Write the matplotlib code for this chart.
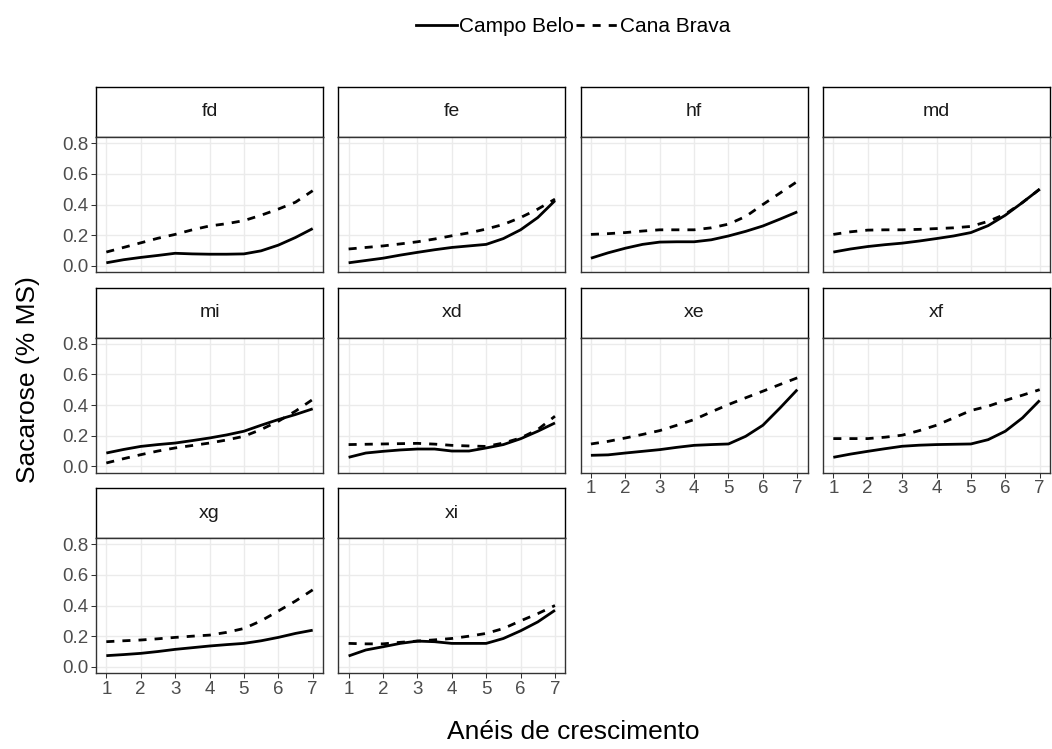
import numpy as np
import matplotlib
matplotlib.use('Agg')
import matplotlib.pyplot as plt
from matplotlib.lines import Line2D

plt.rcParams['font.family'] = ['Liberation Sans', 'DejaVu Sans']

# growth rings (x) and sucrose content per site / group
aneis = [1, 1.5, 2, 2.5, 3, 3.5, 4, 4.5, 5, 5.5, 6, 6.5, 7]
grupos = ['fd', 'fe', 'hf', 'md', 'mi', 'xd', 'xe', 'xf', 'xg', 'xi']

campo_belo = {
    'fd': [0.02, 0.04, 0.055, 0.068, 0.082, 0.078, 0.076, 0.076, 0.078, 0.098, 0.135, 0.185, 0.243],
    'fe': [0.02, 0.035, 0.05, 0.07, 0.088, 0.105, 0.12, 0.13, 0.14, 0.178, 0.235, 0.315, 0.425],
    'hf': [0.05, 0.085, 0.115, 0.14, 0.155, 0.157, 0.157, 0.17, 0.195, 0.225, 0.26, 0.305, 0.352],
    'md': [0.09, 0.11, 0.126, 0.138, 0.148, 0.162, 0.178, 0.195, 0.217, 0.262, 0.33, 0.413, 0.5],
    'mi': [0.087, 0.11, 0.13, 0.142, 0.152, 0.168, 0.185, 0.205, 0.229, 0.268, 0.305, 0.338, 0.375],
    'xd': [0.059, 0.087, 0.098, 0.107, 0.113, 0.113, 0.1, 0.1, 0.12, 0.142, 0.18, 0.229, 0.283],
    'xe': [0.072, 0.075, 0.087, 0.098, 0.109, 0.124, 0.137, 0.142, 0.146, 0.196, 0.268, 0.381, 0.5],
    'xf': [0.059, 0.08, 0.098, 0.115, 0.131, 0.138, 0.142, 0.144, 0.146, 0.174, 0.229, 0.316, 0.43],
    'xg': [0.073, 0.08, 0.088, 0.1, 0.114, 0.125, 0.136, 0.145, 0.153, 0.17, 0.192, 0.218, 0.239],
    'xi': [0.071, 0.11, 0.131, 0.153, 0.168, 0.164, 0.153, 0.153, 0.153, 0.185, 0.235, 0.293, 0.369],
}
cana_brava = {
    'fd': [0.09, 0.12, 0.15, 0.18, 0.205, 0.235, 0.26, 0.275, 0.295, 0.33, 0.37, 0.415, 0.49],
    'fe': [0.11, 0.12, 0.13, 0.143, 0.157, 0.175, 0.196, 0.215, 0.24, 0.27, 0.315, 0.37, 0.435],
    'hf': [0.205, 0.21, 0.217, 0.227, 0.235, 0.235, 0.235, 0.248, 0.272, 0.322, 0.4, 0.475, 0.55],
    'md': [0.205, 0.222, 0.233, 0.235, 0.235, 0.238, 0.243, 0.248, 0.257, 0.29, 0.337, 0.413, 0.5],
    'mi': [0.022, 0.05, 0.076, 0.1, 0.12, 0.136, 0.152, 0.172, 0.196, 0.24, 0.294, 0.36, 0.436],
    'xd': [0.142, 0.144, 0.146, 0.148, 0.15, 0.145, 0.137, 0.133, 0.13, 0.152, 0.185, 0.24, 0.327],
    'xe': [0.146, 0.163, 0.185, 0.208, 0.233, 0.268, 0.305, 0.355, 0.403, 0.447, 0.49, 0.534, 0.577],
    'xf': [0.181, 0.181, 0.181, 0.19, 0.203, 0.233, 0.268, 0.316, 0.364, 0.392, 0.43, 0.464, 0.5],
    'xg': [0.164, 0.17, 0.175, 0.183, 0.192, 0.2, 0.207, 0.225, 0.25, 0.3, 0.364, 0.429, 0.502],
    'xi': [0.153, 0.15, 0.15, 0.16, 0.168, 0.176, 0.185, 0.2, 0.218, 0.25, 0.30, 0.347, 0.40],
}
x_ticks = [1, 2, 3, 4, 5, 6, 7]
y_ticks = [0.0, 0.2, 0.4, 0.6, 0.8]

W, H = 1052, 749
fig = plt.figure(figsize=(W / 100, H / 100), dpi=100)

ncol = 4
pw, ph = 227, 135          # panel size (px)
strip_h = 50
col_left = [96, 338.3, 580.6, 823]
row_top = [87, 287.5, 488]

LW = 2.0
dash = (0, (2.9, 2.9))
tick_col = '#333333'
lab_col = '#4D4D4D'

for i, g in enumerate(grupos):
    r, c = divmod(i, ncol)
    left = col_left[c]
    top = row_top[r]
    # strip
    sax = fig.add_axes([left / W, 1 - (top + strip_h) / H, pw / W, strip_h / H])
    sax.set_xticks([])
    sax.set_yticks([])
    for sp in sax.spines.values():
        sp.set_color('black')
        sp.set_linewidth(1.0)
    sax.text(0.5, 0.5, g, ha='center', va='center', fontsize=14, color='#1A1A1A',
             transform=sax.transAxes)

    ax = fig.add_axes([left / W, 1 - (top + strip_h + ph) / H, pw / W, ph / H])
    ax.plot(aneis, campo_belo[g], color='black', lw=LW, solid_capstyle='butt')
    ax.plot(aneis, cana_brava[g], color='black', lw=LW, linestyle=dash,
            dash_capstyle='butt')
    ax.set_xlim(0.7, 7.3)
    ax.set_ylim(-0.04, 0.84)
    ax.set_xticks(x_ticks)
    ax.set_yticks(y_ticks)
    ax.grid(True, color='#EBEBEB', lw=1.0)
    ax.set_axisbelow(True)
    for sp in ax.spines.values():
        sp.set_color(tick_col)
        sp.set_linewidth(1.0)

    bottom_panel = (i + ncol) >= len(grupos)
    ax.tick_params(axis='both', length=3.5, width=0.75, color=tick_col,
                   labelcolor=lab_col, labelsize=13.5, pad=2)
    if c == 0:
        ax.set_yticklabels([f'{v:.1f}' for v in y_ticks])
    else:
        ax.tick_params(axis='y', length=0, labelleft=False)
    if bottom_panel:
        ax.set_xticklabels([str(v) for v in x_ticks])
    else:
        ax.tick_params(axis='x', length=0, labelbottom=False)

fig.text(28 / W, 1 - 380 / H, 'Sacarose (% MS)', rotation=90, ha='center', va='center',
         fontsize=19, color='black')
fig.text(573 / W, 1 - 732 / H, 'Anéis de crescimento', ha='center', va='center',
         fontsize=19, color='black')

handles = [Line2D([], [], color='black', lw=LW),
           Line2D([], [], color='black', lw=LW, linestyle=dash, dash_capstyle='butt')]
fig.legend(handles, ['Campo Belo', 'Cana Brava'], loc='center',
           bbox_to_anchor=(573 / W, 1 - 27 / H), ncol=2, frameon=False,
           fontsize=15, handlelength=2.0, handletextpad=0.1, columnspacing=0.1,
           labelcolor='black')

fig.savefig('out.png', dpi=100)
